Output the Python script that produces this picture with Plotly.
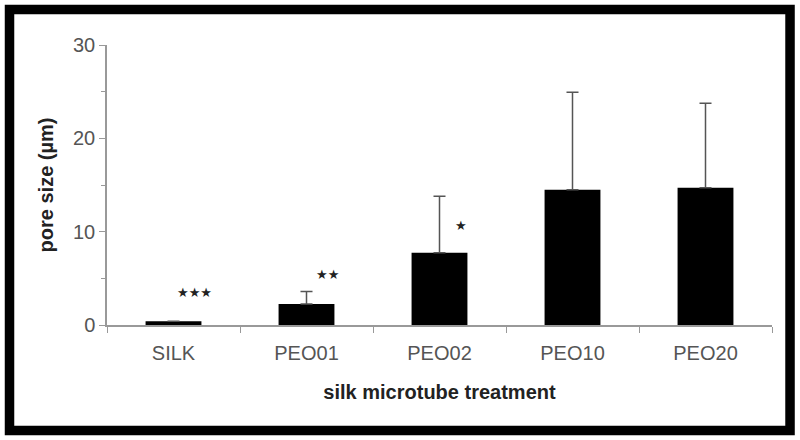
import plotly.graph_objects as go

# data
treatments = ['SILK', 'PEO01', 'PEO02', 'PEO10', 'PEO20']
pore_size = [0.4, 2.25, 7.75, 14.5, 14.7]
pore_err = [0.0, 1.35, 6.05, 10.45, 9.05]
significance = ['★★★', '★★', '★', '', '']
star_height = [3.5, 5.4, 10.7, 0, 0]

fig = go.Figure(go.Bar(
    x=treatments,
    y=pore_size,
    width=0.42,
    marker=dict(color='black', line=dict(width=0)),
    error_y=dict(
        type='data',
        symmetric=False,
        array=pore_err,
        arrayminus=[0] * len(pore_err),
        color='#555555',
        thickness=1.5,
        width=6,
    ),
    showlegend=False,
))

# significance stars, a little to the right of each bar
for t, s, h in zip(treatments, significance, star_height):
    if s:
        fig.add_annotation(x=t, y=h, text=s, showarrow=False, xshift=21,
                           font=dict(size=13, color='#222222', family='DejaVu Sans'))

# thick black frame round the whole figure
fig.add_shape(type='rect', xref='paper', yref='paper',
              x0=-0.1466, x1=1.0271, y0=-0.3768, y1=1.1268,
              line=dict(color='black', width=9.5))

fig.update_layout(
    width=800, height=440,
    margin=dict(l=107, r=28, t=45, b=115),
    paper_bgcolor='white', plot_bgcolor='white',
    font=dict(family='Liberation Sans, Arial, sans-serif', color='#555555'),
    xaxis=dict(
        showline=True, linecolor='#999999', linewidth=1.5,
        ticks='outside', tickson='boundaries', ticklen=6, tickcolor='#999999',
        tickfont=dict(size=20, color='#555555'), ticklabelstandoff=9,
        title=dict(text='<b>silk microtube treatment</b>', standoff=22,
                   font=dict(size=20, color='#222222')),
        showgrid=False, zeroline=False,
    ),
    yaxis=dict(
        range=[0, 30], tickvals=[0, 10, 20, 30],
        showline=True, linecolor='#999999', linewidth=1.5,
        ticks='outside', ticklen=6, tickcolor='#999999',
        minor=dict(tickvals=[5, 15, 25], ticks='outside', ticklen=4, tickcolor='#999999'),
        tickfont=dict(size=20, color='#555555'),
        title=dict(text='<b>pore size (µm)</b>', standoff=14,
                   font=dict(size=20, color='#222222')),
        showgrid=False, zeroline=False,
    ),
)

# drop the default page margin so the figure sits at the window's corner
fig.write_html('out.html', config={'displayModeBar': False},
               post_script="document.body.style.margin='0';")
